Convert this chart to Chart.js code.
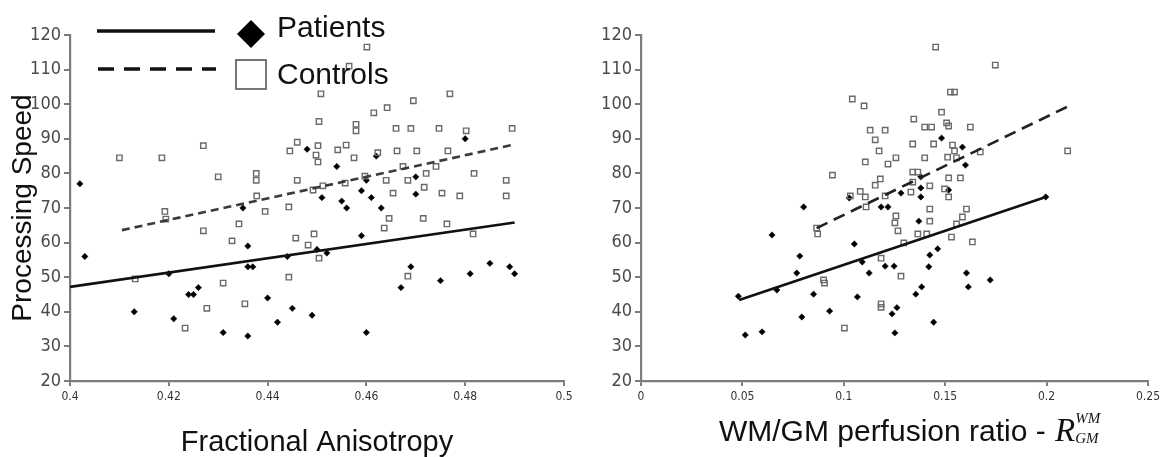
<!DOCTYPE html>
<html>
<head>
<meta charset="utf-8">
<script src="https://cdn.jsdelivr.net/npm/chart.js@4.4.0/dist/chart.umd.min.js"></script>
<style>
  html, body { margin: 0; padding: 0; background: #fff; }
  #wrap { position: relative; width: 1164px; height: 457px; overflow: hidden; }
  .panel { position: absolute; top: 0; height: 457px; }
  #left { left: 0; width: 600px; }
  #right { left: 600px; width: 564px; }
</style>
</head>
<body>
<div id="wrap">
  <div class="panel" id="left"><canvas id="faChart" width="600" height="457"></canvas></div>
  <div class="panel" id="right"><canvas id="perfChart" width="564" height="457"></canvas></div>
</div>
<script>
// --- data ---
const seriesNames = ['Patients', 'Controls'];

const speedTicks = [20, 30, 40, 50, 60, 70, 80, 90, 100, 110, 120];
const faTicks = [0.4, 0.42, 0.44, 0.46, 0.48, 0.5];
const faTickLabels = ['0.4', '0.42', '0.44', '0.46', '0.48', '0.5'];
const ratioTicks = [0, 0.05, 0.1, 0.15, 0.2, 0.25];
const ratioTickLabels = ['0', '0.05', '0.1', '0.15', '0.2', '0.25'];

// left panel: fractional anisotropy vs processing speed
const faPatients = [
  [0.402, 77], [0.403, 56], [0.413, 40], [0.420, 51], [0.421, 38], [0.424, 45], [0.425, 45],
  [0.426, 47], [0.431, 34], [0.435, 70], [0.436, 59], [0.436, 53], [0.437, 53], [0.436, 33],
  [0.440, 44], [0.442, 37], [0.444, 56], [0.445, 41], [0.448, 87], [0.449, 39], [0.450, 58],
  [0.452, 57], [0.451, 73], [0.454, 82], [0.455, 72], [0.456, 70], [0.459, 62], [0.459, 75],
  [0.460, 78], [0.460, 34], [0.461, 73], [0.462, 85], [0.463, 70], [0.467, 47], [0.469, 53],
  [0.470, 79], [0.470, 74], [0.475, 49], [0.480, 90], [0.481, 51], [0.485, 54], [0.489, 53],
  [0.490, 51]
];
const faControls = [
  [0.410, 84.5], [0.4186, 84.5], [0.427, 88], [0.430, 79], [0.4377, 80], [0.4377, 78],
  [0.4445, 86.5], [0.446, 89], [0.446, 78], [0.4192, 69], [0.4194, 66.8], [0.427, 63.4],
  [0.4328, 60.5], [0.4342, 65.4], [0.4378, 73.5], [0.4395, 69], [0.4443, 70.3], [0.4457, 61.3],
  [0.4443, 50], [0.431, 48.3], [0.4277, 41], [0.4233, 35.3], [0.4354, 42.3], [0.4132, 49.5],
  [0.4504, 95], [0.4508, 103], [0.4502, 88], [0.4498, 85.3], [0.4502, 83.3], [0.4542, 86.8],
  [0.4559, 88.2], [0.4575, 84.5], [0.4579, 94.2], [0.4579, 92.3], [0.4512, 76.4], [0.4492, 75.2],
  [0.4557, 77.2], [0.4597, 79.2], [0.4494, 62.5], [0.4482, 59.3], [0.4504, 55.5],
  [0.4601, 116.5], [0.4565, 111], [0.4769, 103], [0.4695, 101], [0.4642, 99], [0.4615, 97.5],
  [0.466, 93], [0.469, 93], [0.4747, 93], [0.4802, 92.3], [0.4895, 93], [0.4623, 86],
  [0.4662, 86.5], [0.4702, 86.5], [0.4765, 86.5], [0.4674, 82], [0.4741, 82], [0.4721, 80],
  [0.4818, 80], [0.464, 78], [0.4684, 78], [0.4717, 76], [0.4883, 78], [0.4654, 74.3],
  [0.4753, 74.3], [0.4789, 73.5], [0.4883, 73.5], [0.4646, 67], [0.4715, 67], [0.4636, 64.2],
  [0.4763, 65.4], [0.4816, 62.5], [0.4684, 50.3]
];
const faPatientsFit = [[0.400, 47.2], [0.490, 65.8]];
const faControlsFit = [[0.4105, 63.6], [0.4895, 88.2]];

// right panel: WM/GM perfusion ratio vs processing speed
const ratioPatients = [
  [0.048, 44.5], [0.0514, 33.3], [0.0597, 34.2], [0.0646, 62.2], [0.067, 46.3], [0.0768, 51.2],
  [0.0783, 56.1], [0.0793, 38.5], [0.0802, 70.3], [0.0851, 45.1], [0.093, 40.2], [0.1027, 72.9],
  [0.1052, 59.6], [0.1067, 44.3], [0.1091, 54.4], [0.1125, 51.2], [0.1184, 70.3], [0.1218, 70.3],
  [0.1204, 53.2], [0.1248, 53.2], [0.1238, 39.4], [0.1252, 33.9], [0.1262, 41.2], [0.1282, 74.3],
  [0.138, 79], [0.138, 75.8], [0.138, 73.2], [0.137, 66.2], [0.1384, 47.2], [0.1355, 45.1],
  [0.1419, 53], [0.1424, 56.4], [0.1463, 58.2], [0.1443, 37], [0.1482, 90.2], [0.1517, 75.2],
  [0.1585, 87.6], [0.16, 82.4], [0.1605, 51.2], [0.1614, 47.2], [0.1722, 49.2], [0.1996, 73.2]
];
const ratioControls = [
  [0.0866, 64.2], [0.0871, 62.5], [0.09, 49.2], [0.0905, 48.3], [0.1003, 35.3], [0.1032, 73.5],
  [0.1081, 74.8], [0.1106, 73.2], [0.111, 70.3], [0.1155, 76.6], [0.118, 78.4], [0.1204, 73.5],
  [0.1184, 55.5], [0.1184, 42.3], [0.1184, 41.3], [0.1257, 67.7], [0.1252, 65.7], [0.1267, 63.4],
  [0.0944, 79.5], [0.1042, 101.5], [0.11, 99.5], [0.113, 92.5], [0.1204, 92.5], [0.1155, 89.7],
  [0.1174, 86.5], [0.1106, 83.3], [0.1218, 82.7], [0.1257, 84.5], [0.1747, 111.3], [0.1526, 103.5],
  [0.1546, 103.5], [0.1482, 97.7], [0.1345, 95.7], [0.1507, 94.6], [0.1399, 93.4], [0.1433, 93.4],
  [0.1517, 93.7], [0.1624, 93.4], [0.134, 88.5], [0.1443, 88.5], [0.1536, 88.2], [0.1546, 86.5],
  [0.1512, 84.7], [0.1556, 84.5], [0.1673, 86.2], [0.1399, 84.5], [0.134, 80.4], [0.1365, 80.4],
  [0.1517, 78.7], [0.1575, 78.7], [0.1424, 76.4], [0.134, 77.5], [0.1497, 75.5], [0.1517, 73.2],
  [0.1331, 74.6], [0.1424, 69.7], [0.1424, 66.2], [0.1605, 69.7], [0.1585, 67.4], [0.1556, 65.4],
  [0.1365, 62.5], [0.1409, 62.5], [0.1531, 61.6], [0.1634, 60.2], [0.1296, 59.9], [0.1282, 50.3],
  [0.1453, 116.5], [0.2104, 86.5]
];
const ratioPatientsFit = [[0.0484, 43.4], [0.1996, 73.2]];
const ratioControlsFit = [[0.0866, 64.2], [0.210, 99.2]];

// --- styling ---
const AXIS = '#7c7c7c';
const SANS = '"Liberation Sans", Arial, sans-serif';
const NARROW = '"Liberation Sans Narrow", "DejaVu Sans Condensed", "Liberation Sans", sans-serif';

const pts = arr => arr.map(([x, y]) => ({x, y}));

function makeDatasets(patients, controls, pFit, cFit, dash, dashColor) {
  return [
    {label: seriesNames[0] + ' fit', data: pts(pFit), showLine: true, borderColor: '#111',
     borderWidth: 2.6, pointRadius: 0},
    {label: seriesNames[1] + ' fit', data: pts(cFit), showLine: true, borderColor: dashColor,
     borderWidth: 2.6, borderDash: dash, pointRadius: 0},
    {label: seriesNames[1], data: pts(controls), pointStyle: 'rect', pointRadius: 3.8,
     backgroundColor: 'rgba(255,255,255,0)', borderColor: '#6a6a6a', borderWidth: 1.4},
    {label: seriesNames[0], data: pts(patients), pointStyle: 'rectRot', pointRadius: 3.2,
     backgroundColor: '#000', borderColor: '#000', borderWidth: 0.5}
  ];
}

function xAxis(ticks, labels, title) {
  return {
    type: 'linear', min: ticks[0], max: ticks[ticks.length - 1],
    afterBuildTicks: s => { s.ticks = ticks.map(v => ({value: v})); },
    afterFit: s => { s.height = 76; },
    border: {display: true, color: AXIS, width: 2.2},
    grid: {drawOnChartArea: false, drawTicks: true, tickLength: 5, color: AXIS, lineWidth: 2},
    ticks: {autoSkip: false, maxRotation: 0, padding: 4, color: '#333',
            font: {family: NARROW, size: 12}, callback: (v, i) => labels[i]},
    title: title ? {display: true, text: title, color: '#111', padding: 0,
                    font: {family: SANS, size: 29, lineHeight: 1}} : {display: false}
  };
}

function yAxis(width, title) {
  return {
    min: speedTicks[0], max: speedTicks[speedTicks.length - 1],
    afterBuildTicks: s => { s.ticks = speedTicks.map(v => ({value: v})); },
    afterFit: s => { s.width = width; },
    border: {display: true, color: AXIS, width: 2.2},
    grid: {drawOnChartArea: false, drawTicks: true, tickLength: 6, color: AXIS, lineWidth: 2},
    ticks: {padding: 3, color: '#4a4a4a', font: {family: NARROW, size: 18}},
    title: title ? {display: true, text: title, color: '#111', padding: {top: 6, bottom: 0},
                    font: {family: SANS, size: 28}} : {display: false}
  };
}

// legend drawn inside the left panel, above the points
const legendKey = {
  id: 'legendKey',
  afterDraw(chart) {
    const ctx = chart.ctx;
    ctx.save();
    ctx.strokeStyle = '#111';
    ctx.lineWidth = 3.5;
    ctx.beginPath(); ctx.moveTo(97, 31); ctx.lineTo(215, 31); ctx.stroke();
    ctx.setLineDash([16, 10]);
    ctx.beginPath(); ctx.moveTo(98, 69); ctx.lineTo(216, 69); ctx.stroke();
    ctx.setLineDash([]);
    // diamond
    ctx.fillStyle = '#000';
    ctx.beginPath();
    ctx.moveTo(251, 20); ctx.lineTo(265, 34); ctx.lineTo(251, 48); ctx.lineTo(237, 34);
    ctx.closePath(); ctx.fill();
    // square
    ctx.strokeStyle = '#555';
    ctx.lineWidth = 1.6;
    ctx.strokeRect(236, 60, 30, 29);
    ctx.fillStyle = '#111';
    ctx.font = '30px ' + SANS;
    ctx.textBaseline = 'alphabetic';
    ctx.fillText(seriesNames[0], 277, 37);
    ctx.fillText(seriesNames[1], 277, 84);
    ctx.restore();
  }
};

// x title with the R_GM^WM symbol
const ratioTitle = {
  id: 'ratioTitle',
  afterDraw(chart) {
    const ctx = chart.ctx;
    const xs = chart.scales.x;
    const mid = (xs.left + xs.right) / 2 - 8;
    const base = 441;
    const main = 'WM/GM perfusion ratio - ';
    ctx.save();
    ctx.fillStyle = '#111';
    ctx.textBaseline = 'alphabetic';
    ctx.font = '30px ' + SANS;
    const w = ctx.measureText(main).width;
    const x0 = mid - w / 2;
    ctx.fillText(main, x0, base);
    ctx.font = 'italic 33px "Liberation Serif", serif';
    ctx.fillText('R', x0 + w + 1, base);
    const rw = ctx.measureText('R').width;
    ctx.font = 'italic 15px "Liberation Serif", serif';
    ctx.fillText('WM', x0 + w + 1 + rw, base - 18);
    ctx.fillText('GM', x0 + w + 1 + rw, base + 2);
    ctx.restore();
  }
};

const common = {
  responsive: false,
  animation: false,
  devicePixelRatio: 1,
  plugins: {legend: {display: false}, tooltip: {enabled: false}}
};

new Chart(document.getElementById('faChart'), {
  type: 'scatter',
  data: {datasets: makeDatasets(faPatients, faControls, faPatientsFit, faControlsFit, [8, 5], '#3a3a3a')},
  options: Object.assign({}, common, {
    layout: {padding: {left: 0, right: 36, top: 35, bottom: 0}},
    scales: {
      x: xAxis(faTicks, faTickLabels, 'Fractional Anisotropy'),
      y: yAxis(70, 'Processing Speed')
    }
  }),
  plugins: [legendKey]
});

new Chart(document.getElementById('perfChart'), {
  type: 'scatter',
  data: {datasets: makeDatasets(ratioPatients, ratioControls, ratioPatientsFit, ratioControlsFit, [12, 7], '#222')},
  options: Object.assign({}, common, {
    layout: {padding: {left: 0, right: 12, top: 35, bottom: 0}},
    scales: {
      x: xAxis(ratioTicks, ratioTickLabels, null),
      y: yAxis(41, null)
    }
  }),
  plugins: [ratioTitle]
});
</script>
</body>
</html>
